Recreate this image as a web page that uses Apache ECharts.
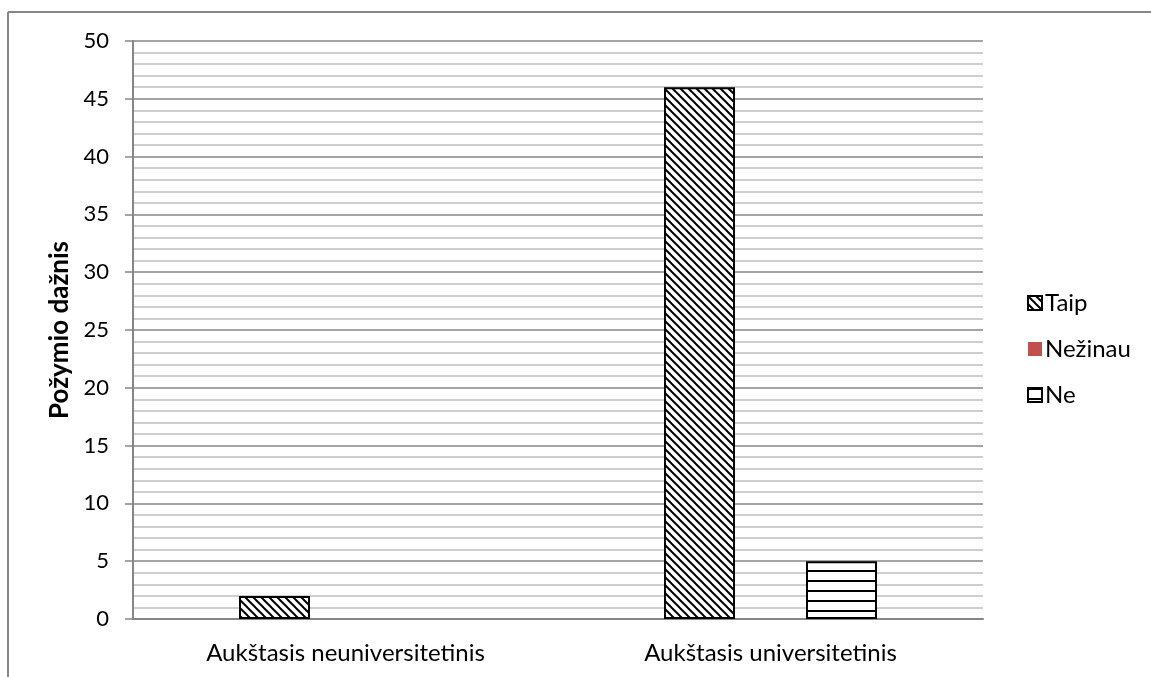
<!DOCTYPE html>
<html>
<head>
<meta charset="utf-8">
<script src="https://cdn.jsdelivr.net/npm/echarts@6/dist/echarts.min.js"></script>
<style>
html,body{margin:0;padding:0;background:#fff;}
#chart{width:1151px;height:677px;}
</style>
</head>
<body>
<div id="chart"></div>
<script>
const categories = ['Aukštasis neuniversitetinis', 'Aukštasis universitetinis'];
const seriesNames = ['Taip', 'Nežinau', 'Ne'];
const taipValues = [2, 46];
const nezinauValues = [0, 0];
const neValues = [0, 5];

function makeDiag() {
  const c = document.createElement('canvas');
  c.width = 8; c.height = 8;
  const g = c.getContext('2d');
  g.fillStyle = '#fff'; g.fillRect(0, 0, 8, 8);
  g.strokeStyle = '#000'; g.lineWidth = 2;
  for (let k = -1; k <= 1; k++) {
    g.beginPath(); g.moveTo(-2, -2 + 8 * k); g.lineTo(10, 10 + 8 * k); g.stroke();
  }
  return c;
}
function makeHoriz() {
  const c = document.createElement('canvas');
  c.width = 10; c.height = 10;
  const g = c.getContext('2d');
  g.fillStyle = '#fff'; g.fillRect(0, 0, 10, 10);
  g.fillStyle = '#000'; g.fillRect(0, 0, 10, 2);
  return c;
}
const diagPattern = { image: makeDiag(), repeat: 'repeat' };
const horizPattern = { image: makeHoriz(), repeat: 'repeat' };

function prep(vals) {
  return vals.map(v => v === 0 ? { value: 0, itemStyle: { borderWidth: 0, opacity: 0 } } : v);
}

const font = 'Lato, "Open Sans", sans-serif';
const chart = echarts.init(document.getElementById('chart'));
chart.setOption({
  animation: false,
  backgroundColor: '#fff',
  textStyle: { fontFamily: font },
  graphic: [
    { type: 'line', shape: { x1: 8, y1: 12, x2: 1151, y2: 12 }, style: { stroke: '#868686', lineWidth: 2 } },
    { type: 'line', shape: { x1: 8, y1: 12, x2: 8, y2: 677 }, style: { stroke: '#868686', lineWidth: 2 } }
  ],
  grid: { left: 133, right: 168, top: 41, bottom: 58 },
  legend: {
    orient: 'vertical',
    left: 1022,
    top: 286,
    itemGap: 22,
    itemWidth: 14,
    itemHeight: 14,
    icon: 'rect',
    data: seriesNames,
    textStyle: { fontSize: 24, color: '#000', fontFamily: font, padding: [0, 0, 0, -2] }
  },
  xAxis: {
    type: 'category',
    data: categories,
    axisLine: { lineStyle: { color: '#868686', width: 2 } },
    axisTick: { show: false },
    axisLabel: { fontSize: 24, color: '#000', margin: 22, fontFamily: font }
  },
  yAxis: {
    type: 'value',
    min: 0, max: 50, interval: 5,
    name: 'Požymio dažnis',
    nameLocation: 'middle',
    nameGap: 57,
    nameTextStyle: { fontSize: 26, fontWeight: 'bold', color: '#000', fontFamily: font },
    axisLine: { show: true, lineStyle: { color: '#868686', width: 2 } },
    axisTick: { show: true, length: 8, lineStyle: { color: '#868686', width: 1.5 } },
    axisLabel: { fontSize: 22, color: '#000', margin: 24, fontFamily: font },
    splitLine: { show: true, lineStyle: { color: '#868686', width: 1.5 } },
    minorTick: { show: false, splitNumber: 5 },
    minorSplitLine: { show: true, lineStyle: { color: '#bfbfbf', width: 1.5 } }
  },
  series: [
    {
      name: seriesNames[0], type: 'bar', data: prep(taipValues),
      barWidth: 71, barGap: '0%',
      itemStyle: { color: diagPattern, borderColor: '#000', borderWidth: 2 }
    },
    {
      name: seriesNames[1], type: 'bar', data: prep(nezinauValues),
      barWidth: 71, barGap: '0%',
      itemStyle: { color: '#c0504d' }
    },
    {
      name: seriesNames[2], type: 'bar', data: prep(neValues),
      barWidth: 71, barGap: '0%',
      itemStyle: { color: horizPattern, borderColor: '#000', borderWidth: 2 }
    }
  ]
});
</script>
</body>
</html>
